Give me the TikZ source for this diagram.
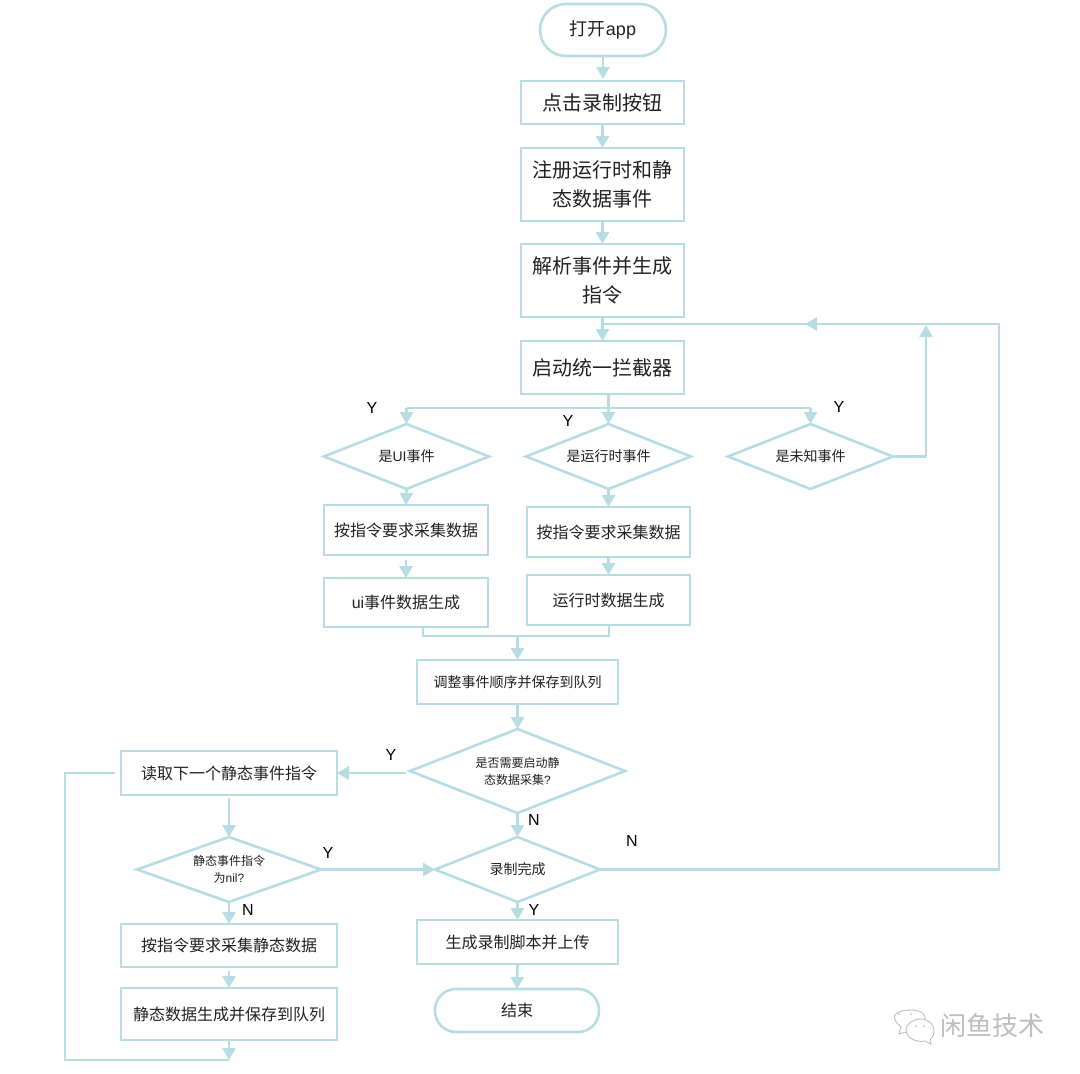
\documentclass[tikz,border=0pt]{standalone}
\usepackage{fontspec}
\setmainfont{Noto Sans CJK SC}
\newfontfamily\lat{Liberation Sans}
\usetikzlibrary{arrows.meta,shapes.geometric}
\definecolor{ln}{HTML}{B7DDE2}
\definecolor{tx}{HTML}{222222}
\definecolor{wm}{HTML}{BEBEBE}
\newcommand{\fs}[2]{\fontsize{#1}{#2}\selectfont}
\tikzset{
  base/.style={draw=ln,line width=2.6pt,text=tx,align=center,inner sep=0pt,outer sep=0pt},
  rnd/.style={base,rectangle,rounded corners=21pt},
  dia/.style={base,diamond,aspect=2.5},
  conn/.style={draw=ln,line width=2.6pt},
  arr/.style={conn,-{Triangle[length=12pt,width=13pt]}},
  lab/.style={text=black,font=\lat\fs{16}{18},inner sep=0pt},
  big/.style={font=\fs{20}{29}},
  mid/.style={font=\fs{16}{22}},
  sml/.style={font=\fs{14}{18}},
  tiny/.style={font=\fs{12}{17}}
}
\begin{document}
\begin{tikzpicture}[x=1pt,y=-1pt]
\useasboundingbox (0,0) rectangle (1080,1074);
\fill[white] (0,0) rectangle (1080,1074);
% nodes
\node[rnd,minimum width=126pt,minimum height=52pt,rounded corners=26pt,font=\fs{18}{24}] (start) at (603,30) {打开{\lat app}};
\node[base,minimum width=163pt,minimum height=43pt,big] (rec) at (602.5,102.5) {点击录制按钮};
\node[base,minimum width=163pt,minimum height=73pt,big] (reg) at (602.5,184.5) {注册运行时和静\\态数据事件};
\node[base,minimum width=163pt,minimum height=73pt,big] (parse) at (602.5,280.5) {解析事件并生成\\指令};
\node[base,minimum width=163pt,minimum height=53pt,big] (intc) at (602.5,367.5) {启动统一拦截器};
\node[dia,minimum width=165pt,minimum height=65pt,sml] (dui) at (406.5,456.5) {是{\lat UI}事件};
\node[dia,minimum width=165pt,minimum height=65pt,sml] (drt) at (608.5,456.5) {是运行时事件};
\node[dia,minimum width=165pt,minimum height=65pt,sml] (dun) at (810.5,456.5) {是未知事件};
\node[base,minimum width=164pt,minimum height=50pt,mid] (cui) at (406,530) {按指令要求采集数据};
\node[base,minimum width=163pt,minimum height=50pt,mid] (crt) at (608.5,532) {按指令要求采集数据};
\node[base,minimum width=164pt,minimum height=49pt,mid] (gui) at (406,602.5) {{\lat ui}事件数据生成};
\node[base,minimum width=163pt,minimum height=50pt,mid] (grt) at (608.5,600) {运行时数据生成};
\node[base,minimum width=201pt,minimum height=44pt,sml] (queue) at (517.5,682) {调整事件顺序并保存到队列};
\node[dia,minimum width=215pt,minimum height=84pt,tiny] (need) at (517.5,771) {是否需要启动静\\态数据采集{\lat ?}};
\node[base,minimum width=216pt,minimum height=44pt,mid] (read) at (229,773) {读取下一个静态事件指令};
\node[dia,minimum width=184pt,minimum height=65pt,tiny] (isnil) at (229,869.5) {静态事件指令\\为{\lat nil?}};
\node[dia,minimum width=165pt,minimum height=65pt,sml] (done) at (517.5,869.5) {录制完成};
\node[base,minimum width=201pt,minimum height=44pt,mid] (upl) at (517.5,942) {生成录制脚本并上传};
\node[rnd,minimum width=164pt,minimum height=43pt,mid] (fin) at (517,1010.5) {结束};
\node[base,minimum width=216pt,minimum height=43pt,mid] (cst) at (229,945.5) {按指令要求采集静态数据};
\node[base,minimum width=216pt,minimum height=52pt,mid] (gst) at (229,1014) {静态数据生成并保存到队列};
% free-end coordinates
\coordinate (t1) at (603,324);
\coordinate (loopR) at (999,324);
\coordinate (loopB) at (999,869.5);
\coordinate (loopArr) at (805,324);
\coordinate (busC) at (608.5,408);
\coordinate (busL) at (406.5,408);
\coordinate (busR) at (810.5,408);
\coordinate (unkC) at (926,456.5);
\coordinate (unkT) at (926,325);
\coordinate (mergeL) at (423,636);
\coordinate (mergeR) at (609,636);
\coordinate (mergeM) at (517.5,636);
\coordinate (sL) at (65,773);
\coordinate (sB) at (65,1060);
\coordinate (sE) at (229,1060);
\coordinate (needL) at (406,773);
% connectors
\draw[arr] (start.south) -- (603,79);
\draw[arr] (rec.south) -- (reg.north);
\draw[arr] (reg.south) -- (parse.north);
\draw[arr] (parse.south) -- (intc.north);
\draw[conn] (intc.south -| busC) -- (busC);
\draw[conn] (busL) -- (busR);
\draw[arr] (busL) -- (dui.north);
\draw[arr] (busC) -- (drt.north);
\draw[arr] (busR) -- (dun.north);
\draw[arr] (dui.south) -- (cui.north);
\draw[arr] (drt.south) -- (crt.north);
\draw[arr] (406,560) -- (gui.north);
\draw[arr] (crt.south) -- (grt.north);
\draw[conn] (gui.south -| mergeL) -- (mergeL) -- (mergeR) -- (grt.south -| mergeR);
\draw[arr] (mergeM) -- (queue.north);
\draw[arr] (queue.south) -- (need.north);
\draw[arr] (needL) -- (read.east);
\draw[arr] (need.south) -- (done.north);
\draw[arr] (done.south) -- (upl.north);
\draw[arr] (upl.south) -- (fin.north);
\draw[conn] (done.east) -- (loopB) -- (loopR) -- (t1);
\draw[arr] (loopR) -- (loopArr);
\draw[conn] (dun.east) -- (unkC);
\draw[arr] (unkC) -- (unkT);
\draw[arr] (isnil.east) -- (done.west);
\draw[conn] (115,773) -- (sL) -- (sB) -- (sE);
\draw[arr] (229,798) -- (isnil.north);
\draw[arr] (isnil.south) -- (cst.north);
\draw[arr] (229,971) -- (gst.north);
\draw[arr] (gst.south) -- (sE);
% labels
\node[lab] (y1) at (372,408) {Y};
\node[lab] (y2) at (568,421) {Y};
\node[lab] (y3) at (839,407) {Y};
\node[lab] (y4) at (391,755) {Y};
\node[lab] (y5) at (328,853) {Y};
\node[lab] (y6) at (534,910) {Y};
\node[lab] (n1) at (534,820) {N};
\node[lab] (n2) at (632,841) {N};
\node[lab] (n3) at (248,910) {N};
% watermark
\node[text=wm,font=\fs{26}{28},inner sep=0pt] (wmk) at (992.5,1026) {闲鱼技术};
\begin{scope}[draw=wm,line width=0.9pt]
\draw[fill=white] (906,1032) -- (899,1034) -- (901,1027) .. controls (886,1014) and (900,1010) .. (911,1010) .. controls (925,1010) and (930,1018) .. (920,1030) .. controls (916,1032) and (911,1033) .. (906,1032) -- cycle;
\draw[fill=white] (930,1040) -- (931,1044) -- (925,1041) .. controls (915,1043) and (906,1037) .. (906,1030) .. controls (906,1024) and (913,1019) .. (920,1019) .. controls (928,1019) and (934,1024) .. (934,1030) .. controls (934,1034) and (933,1037) .. (930,1040) -- cycle;
\fill[wm] (899,1014) circle (1pt) (911,1014) circle (1pt) (916,1026) circle (1pt) (924,1026) circle (1pt);
\end{scope}
\end{tikzpicture}
\end{document}
